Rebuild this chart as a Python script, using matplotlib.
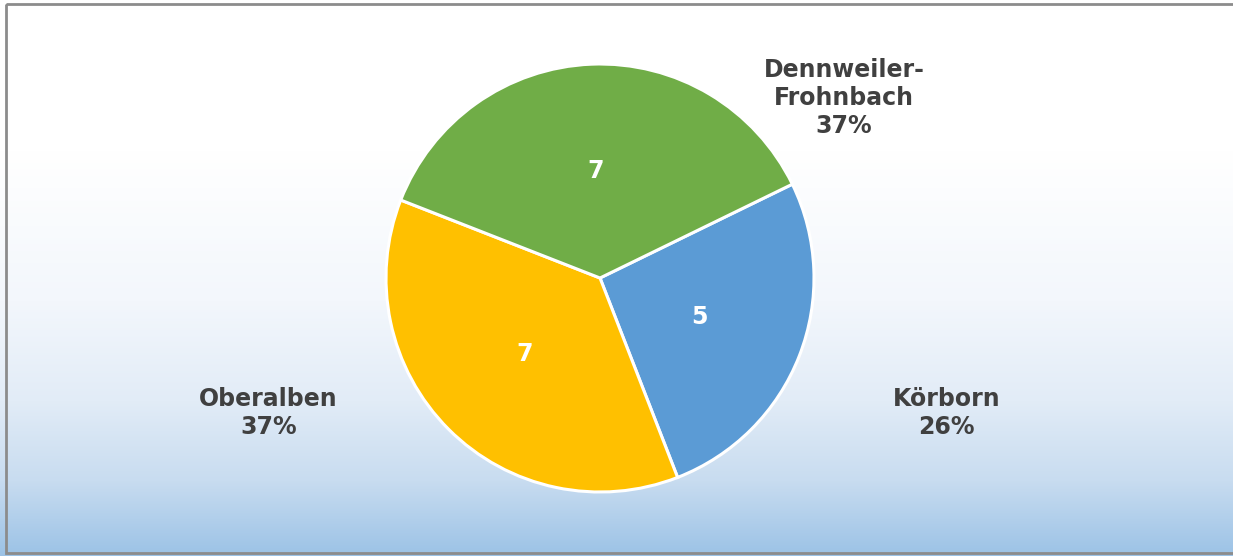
import numpy as np
import matplotlib.pyplot as plt
from matplotlib.patches import Rectangle

# data
labels = ["Körborn", "Oberalben", "Dennweiler-\nFrohnbach"]
counts = [5, 7, 7]
colors = ["#5B9BD5", "#FFC000", "#70AD47"]
label_pos = [(1.62, -0.63), (-1.55, -0.63), (1.14, 0.84)]

W, H = 1233, 556
fig = plt.figure(figsize=(W / 100, H / 100), dpi=100)

# background gradient (white on top -> light blue at bottom)
bg = fig.add_axes([0, 0, 1, 1])
stops_y = np.array([0, 150, 300, 400, 480, 556])
stops_c = np.array([
    [255, 255, 255],
    [255, 255, 255],
    [243, 247, 252],
    [226, 236, 247],
    [200, 220, 240],
    [155, 194, 230],
]) / 255.0
ys = np.arange(H)
grad = np.stack([np.interp(ys, stops_y, stops_c[:, i]) for i in range(3)], axis=1)
img = np.repeat(grad[:, None, :], 2, axis=1)
bg.imshow(img, aspect="auto", extent=[0, W, H, 0])
bg.set_xlim(0, W)
bg.set_ylim(H, 0)
bg.axis("off")
bg.add_patch(Rectangle((6, 4), W - 4, H - 7, fill=False, edgecolor="#8C8C8C", linewidth=2))

# pie
cx, cy, r = 600, 278, 214
ax = fig.add_axes([(cx - r) / W, (H - cy - r) / H, 2 * r / W, 2 * r / H])
total = sum(counts)
wedges, texts, autotexts = ax.pie(
    counts, colors=colors, startangle=26, counterclock=False,
    autopct=lambda p: f"{round(p * total / 100):d}", pctdistance=0.5,
    wedgeprops=dict(edgecolor="white", linewidth=2.2),
    textprops=dict(color="white", fontsize=17, fontweight="bold"),
)
ax.set_xlim(-1, 1)
ax.set_ylim(-1, 1)
ax.set_aspect("equal")

for lab, c, (x, y) in zip(labels, counts, label_pos):
    pct = 100 * c / total
    ax.text(x, y, f"{lab}\n{pct:.0f}%", ha="center", va="center",
            fontsize=17, fontweight="bold", color="#404040",
            linespacing=1.2, clip_on=False)

fig.savefig("out.png", dpi=100)
